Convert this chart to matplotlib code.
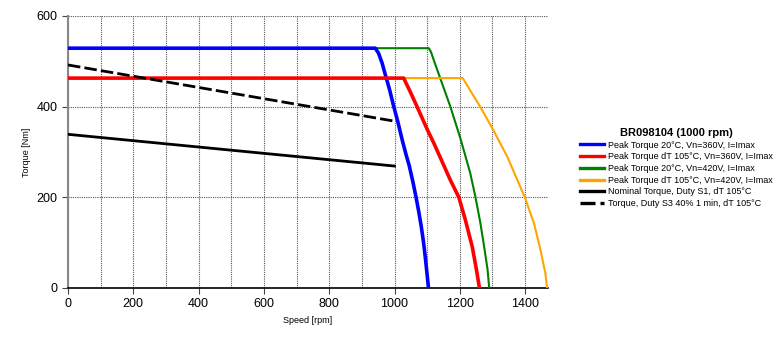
import matplotlib
matplotlib.use("Agg")
from matplotlib import pyplot as plt
import numpy as np

plt.rcParams['font.family'] = ['Liberation Sans', 'DejaVu Sans']

# torque / speed curves, rpm vs Nm
blue_rpm = [0, 941, 951, 962, 972, 985, 997, 1010, 1023, 1035, 1045, 1056,
            1066, 1075, 1082, 1089, 1094, 1099, 1104]
blue_nm = [529, 529, 518, 496, 470, 437, 402, 367, 328, 295, 270, 235,
           200, 165, 135, 100, 69, 35, 0]

red_rpm = [0, 1028, 1050, 1069, 1100, 1120, 1140, 1171, 1197, 1217, 1238,
           1251, 1260]
red_nm = [463, 463, 430, 400, 350, 320, 288, 238, 200, 150, 91, 40, 0]

green_rpm = [0, 1105, 1112, 1120, 1171, 1200, 1212, 1232, 1248, 1263, 1276,
             1285, 1290]
green_nm = [529, 529, 520, 503, 400, 334, 304, 253, 200, 143, 84, 40, 0]

orange_rpm = [0, 1209, 1235, 1263, 1302, 1345, 1399, 1427, 1447, 1462, 1467]
orange_nm = [463, 463, 432, 399, 349, 290, 200, 143, 84, 32, 0]

s1_rpm = [0, 1000]
s1_nm = [339, 269]

s3_rpm = [0, 1000]
s3_nm = [492, 368]

labels = ["Peak Torque 20°C, Vn=360V, I=Imax",
          "Peak Torque dT 105°C, Vn=360V, I=Imax",
          "Peak Torque 20°C, Vn=420V, I=Imax",
          "Peak Torque dT 105°C, Vn=420V, I=Imax",
          "Nominal Torque, Duty S1, dT 105°C",
          "Torque, Duty S3 40% 1 min, dT 105°C"]

fig = plt.figure(figsize=(7.84, 3.38), dpi=100)
ax = fig.add_axes([68/784, 1-288/338, 480/784, 272/338])

# 420V curves sit underneath the 360V ones where they overlap
ax.plot(blue_rpm, blue_nm, color="#0000ff", lw=2.6, label=labels[0], zorder=4)
ax.plot(red_rpm, red_nm, color="#ff0000", lw=2.6, label=labels[1], zorder=4)
ax.plot(green_rpm, green_nm, color="#008000", lw=1.5, label=labels[2], zorder=3)
ax.plot(orange_rpm, orange_nm, color="#ffa500", lw=1.5, label=labels[3], zorder=3)
ax.plot(s1_rpm, s1_nm, color="black", lw=2, label=labels[4], zorder=5)
ax.plot(s3_rpm, s3_nm, color="black", lw=2, ls=(0, (4.5, 1.5)), label=labels[5], zorder=5)

ax.set_xlim(0, 1470)
ax.set_ylim(0, 600)
ax.set_xticks(np.arange(0, 1401, 200))
ax.set_xticks(np.arange(0, 1401, 100), minor=True)
ax.set_yticks([0, 200, 400, 600])
ax.grid(True, which="both", axis="x", color="#555555", ls=(0, (1, 1)), lw=0.8)
ax.grid(True, which="major", axis="y", color="#555555", ls=(0, (1, 1)), lw=0.8)
ax.tick_params(which="minor", length=0)
ax.tick_params(which="major", length=4, labelsize=9, color="#444444")
ax.spines["top"].set_visible(False)
ax.spines["right"].set_visible(False)
ax.spines["left"].set_color("#888888")
ax.spines["left"].set_linewidth(1.5)
ax.spines["bottom"].set_linewidth(1.2)

ax.set_xlabel("Speed [rpm]", fontsize=6.5)
ax.set_ylabel("Torque [Nm]", fontsize=6.5)

leg = fig.legend(loc="center left", bbox_to_anchor=(572/784, 1-168/338),
                 frameon=False, fontsize=6.5, title="BR098104 (1000 rpm)",
                 title_fontproperties={"weight": "bold", "size": 8},
                 handlelength=2.6, handletextpad=0.5, labelspacing=0.3)
for line in leg.get_lines():
    line.set_linewidth(2.4)

plt.savefig("out.png", dpi=100)
plt.close()
